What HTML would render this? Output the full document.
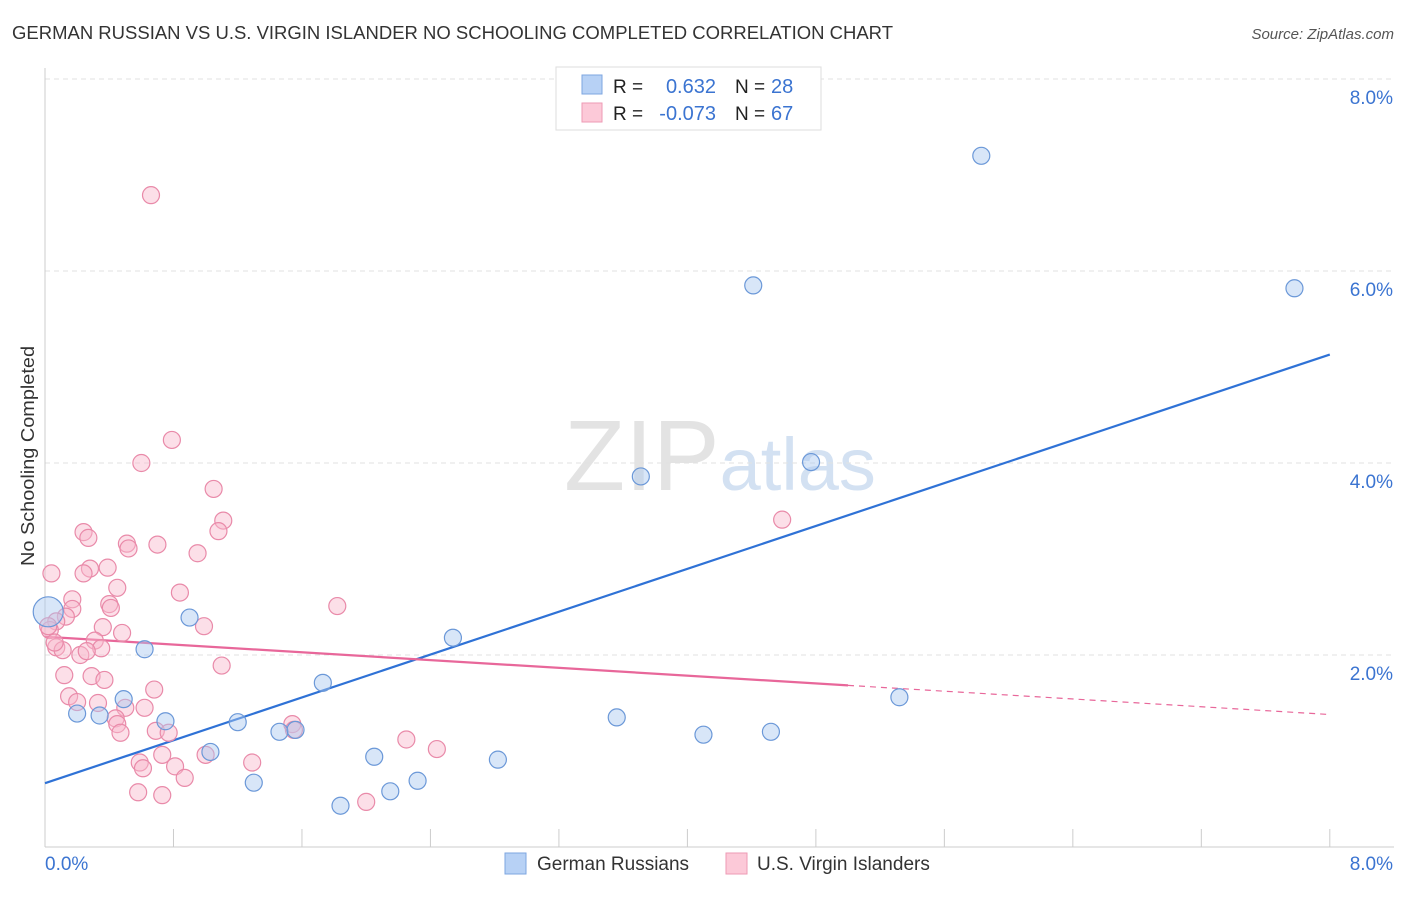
<!DOCTYPE html>
<html><head><meta charset="utf-8"><style>
body{margin:0;background:#fff;font-family:"Liberation Sans",sans-serif;}
svg text{font-family:"Liberation Sans",sans-serif;}
</style></head><body>
<svg id="chart" width="1406" height="892" xmlns="http://www.w3.org/2000/svg">
<text x="12" y="39" font-size="18" fill="#333" textLength="881" lengthAdjust="spacingAndGlyphs">GERMAN RUSSIAN VS U.S. VIRGIN ISLANDER NO SCHOOLING COMPLETED CORRELATION CHART</text>
<text x="1394" y="39" font-size="15" fill="#555" font-style="italic" text-anchor="end">Source: ZipAtlas.com</text>
<text x="720" y="490" font-size="100" text-anchor="middle" font-family="Liberation Serif" fill="#ddd" opacity="0.8">ZIP<tspan fill="#c9daf0" font-family="Liberation Sans" font-size="74">atlas</tspan></text>
<g id="grid"></g><g id="axes"></g><g id="trends"></g><g id="points"></g>
<text transform="translate(34,456) rotate(-90)" font-size="18" fill="#333" text-anchor="middle" textLength="220" lengthAdjust="spacingAndGlyphs">No Schooling Completed</text>
<g>
<rect x="556" y="67" width="265" height="63" fill="#fff" stroke="#ddd"/>
<rect x="582" y="75" width="20" height="19" fill="#b7d1f5" stroke="#7ea6e0"/>
<rect x="582" y="103" width="20" height="19" fill="#fcc9d8" stroke="#ee9ab4"/>
<text x="613" y="93" font-size="19" fill="#222">R =</text><text x="716" y="93" font-size="20" fill="#3b74d1" text-anchor="end">0.632</text>
<text x="735" y="93" font-size="19" fill="#222">N =</text><text x="771" y="93" font-size="20" fill="#3b74d1">28</text>
<text x="613" y="120" font-size="19" fill="#222">R =</text><text x="716" y="120" font-size="20" fill="#3b74d1" text-anchor="end">-0.073</text>
<text x="735" y="120" font-size="19" fill="#222">N =</text><text x="771" y="120" font-size="20" fill="#3b74d1">67</text>
</g>
<g>
<rect x="505" y="853" width="21" height="21" fill="#b7d1f5" stroke="#7ea6e0"/>
<text x="537" y="870" font-size="19" fill="#333">German Russians</text>
<rect x="726" y="853" width="21" height="21" fill="#fcc9d8" stroke="#ee9ab4"/>
<text x="757" y="870" font-size="19" fill="#333">U.S. Virgin Islanders</text>
</g>
</svg>
<script>
const blueX=[5.83,4.41,7.78,3.71,4.77,2.54,0.90,0.62,1.73,0.49,0.20,0.34,0.75,1.20,1.46,1.56,1.03,3.56,4.10,4.52,5.32,2.05,2.82,2.32,2.15,1.30,1.84,0.02];
const blueY=[7.20,5.85,5.82,3.86,4.01,2.18,2.39,2.06,1.71,1.54,1.39,1.37,1.31,1.30,1.20,1.22,0.99,1.35,1.17,1.20,1.56,0.94,0.91,0.69,0.58,0.67,0.43,2.45];
const pinkX=[0.66,0.79,0.60,1.05,1.11,1.08,0.24,0.27,0.51,0.52,0.70,0.95,0.04,0.28,0.39,0.24,0.45,0.84,0.17,0.17,0.40,0.41,1.82,0.13,0.07,0.99,0.36,0.48,0.03,0.31,0.07,0.11,0.35,0.22,0.26,1.10,0.12,0.29,0.37,0.68,0.15,0.20,0.33,0.50,0.62,0.44,0.45,1.54,0.47,0.69,0.77,2.25,2.44,0.73,1.00,0.59,1.29,0.61,0.81,0.87,0.58,0.73,2.00,4.59,0.02,0.06,1.55];
const pinkY=[6.79,4.24,4.00,3.73,3.40,3.29,3.28,3.22,3.16,3.11,3.15,3.06,2.85,2.90,2.91,2.85,2.70,2.65,2.58,2.48,2.53,2.49,2.51,2.40,2.35,2.30,2.29,2.23,2.26,2.15,2.08,2.05,2.07,2.00,2.04,1.89,1.79,1.78,1.74,1.64,1.57,1.51,1.50,1.45,1.45,1.34,1.28,1.28,1.19,1.21,1.19,1.12,1.02,0.96,0.96,0.88,0.88,0.82,0.84,0.72,0.57,0.54,0.47,3.41,2.30,2.13,1.22];
const blueTrend=[0.665,5.13];const pinkTrend=[2.19,1.38];const pinkSolidEnd=5.0;
const yTicks=[2,4,6,8];const xTickLabels=["0.0%","8.0%"];
const X=v=>45+v*160.6, Y=v=>847-v*96;
const NS="http://www.w3.org/2000/svg";
function mk(p,tag,a){const e=document.createElementNS(NS,tag);for(const k in a)e.setAttribute(k,a[k]);p.appendChild(e);return e;}
const grid=document.getElementById('grid'),axes=document.getElementById('axes'),tr=document.getElementById('trends'),pts=document.getElementById('points');
yTicks.forEach(t=>{const l=mk(grid,'line',{x1:45,x2:1394,y1:Y(t),y2:Y(t),stroke:'#e2e2e2','stroke-dasharray':'5,4'});

const tx=mk(axes,'text',{x:1393,y:Y(t)+25,'font-size':19,fill:'#3b74d1','text-anchor':'end'});tx.textContent=t.toFixed(1)+'%';
});
const ax=mk(axes,'line',{x1:45,x2:1394,y1:847,y2:847,stroke:'#ccc'});
const ay=mk(axes,'line',{x1:45,x2:45,y1:68,y2:847,stroke:'#ccc'});
for(let i=0;i<=10;i++){const t=mk(axes,'line',{x1:X(i*0.8),x2:X(i*0.8),y1:829,y2:847,stroke:'#ccc'});}
[[0,45,'start'],[8,1393,'end']].forEach((d,i)=>{const t=mk(axes,'text',{x:d[1],y:870,'font-size':19,fill:'#3b74d1','text-anchor':d[2]});t.textContent=xTickLabels[i];});
function dot(x,y,f,s,r){const c=mk(pts,'circle',{cx:X(x),cy:Y(y),r:r,fill:f,'fill-opacity':0.45,stroke:s,'stroke-width':1.2});return c;}
pinkX.forEach((x,i)=>{const c=dot(x,pinkY[i],'#f8b8cc','#e98aa9',8.5);});
blueX.forEach((x,i)=>{const c=dot(x,blueY[i],'#a9c8f0','#6b98d8',i==27?15:8.5);});
const bl=mk(tr,'line',{x1:X(0),y1:Y(blueTrend[0]),x2:X(8),y2:Y(blueTrend[1]),stroke:'#2f72d6','stroke-width':2.2});
const pf=x=>pinkTrend[0]+(pinkTrend[1]-pinkTrend[0])*x/8;
const pl=mk(tr,'line',{x1:X(0),y1:Y(pf(0)),x2:X(pinkSolidEnd),y2:Y(pf(pinkSolidEnd)),stroke:'#e8679a','stroke-width':2.2});
const pd=mk(tr,'line',{x1:X(pinkSolidEnd),y1:Y(pf(pinkSolidEnd)),x2:X(8),y2:Y(pf(8)),stroke:'#e8679a','stroke-width':1.2,'stroke-dasharray':'6,5'});
</script>
</body></html>
